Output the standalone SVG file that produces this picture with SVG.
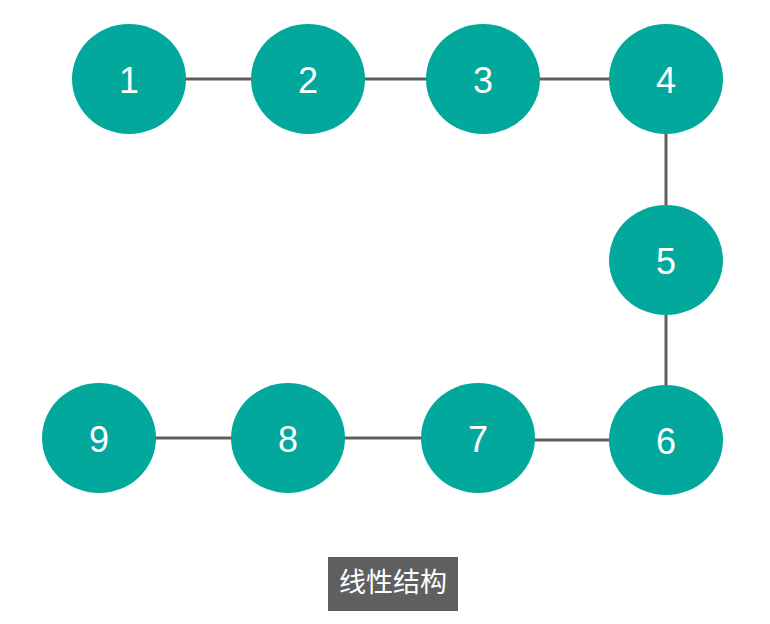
<svg xmlns="http://www.w3.org/2000/svg" width="770" height="624" viewBox="0 0 770 624">
<style>
.node ellipse{fill:#02a89c}
.node text{font-family:"Liberation Sans",Arial,sans-serif;font-size:36px;fill:#ffffff;text-anchor:middle}
.edge{stroke:#5f5f5f;stroke-width:3;fill:none}
</style>
<rect width="770" height="624" fill="#ffffff"/>
<g id="connectors">
<line class="edge" x1="183" y1="79" x2="257" y2="79"/>
<line class="edge" x1="357" y1="79" x2="430" y2="79"/>
<line class="edge" x1="538" y1="79" x2="612" y2="79"/>
<line class="edge" x1="666" y1="131" x2="666" y2="206"/>
<line class="edge" x1="666" y1="314" x2="666" y2="386"/>
<line class="edge" x1="533" y1="440" x2="610" y2="440"/>
<line class="edge" x1="344" y1="438" x2="423" y2="438"/>
<line class="edge" x1="154" y1="438" x2="233" y2="438"/>
</g>
<g id="node1" class="node"><ellipse cx="129" cy="79" rx="57" ry="55"/><text x="129" y="93">1</text></g>
<g id="node2" class="node"><ellipse cx="308" cy="79" rx="57" ry="55"/><text x="308" y="93">2</text></g>
<g id="node3" class="node"><ellipse cx="483" cy="79" rx="57" ry="55"/><text x="483" y="93">3</text></g>
<g id="node4" class="node"><ellipse cx="666" cy="79" rx="57" ry="55"/><text x="666" y="93">4</text></g>
<g id="node5" class="node"><ellipse cx="666" cy="260" rx="57" ry="55"/><text x="666" y="274">5</text></g>
<g id="node6" class="node"><ellipse cx="666" cy="440" rx="57" ry="55"/><text x="666" y="454">6</text></g>
<g id="node7" class="node"><ellipse cx="478" cy="438" rx="57" ry="55"/><text x="478" y="452">7</text></g>
<g id="node8" class="node"><ellipse cx="288" cy="438" rx="57" ry="55"/><text x="288" y="452">8</text></g>
<g id="node9" class="node"><ellipse cx="99" cy="438" rx="57" ry="55"/><text x="99" y="452">9</text></g>
<g id="caption">
<rect x="328" y="557" width="130" height="54" fill="#5f5f5f"/>
<text x="393" y="592" font-family="Noto Sans CJK SC,sans-serif" font-size="27" fill="#ffffff" text-anchor="middle">线性结构</text>
</g>
</svg>
